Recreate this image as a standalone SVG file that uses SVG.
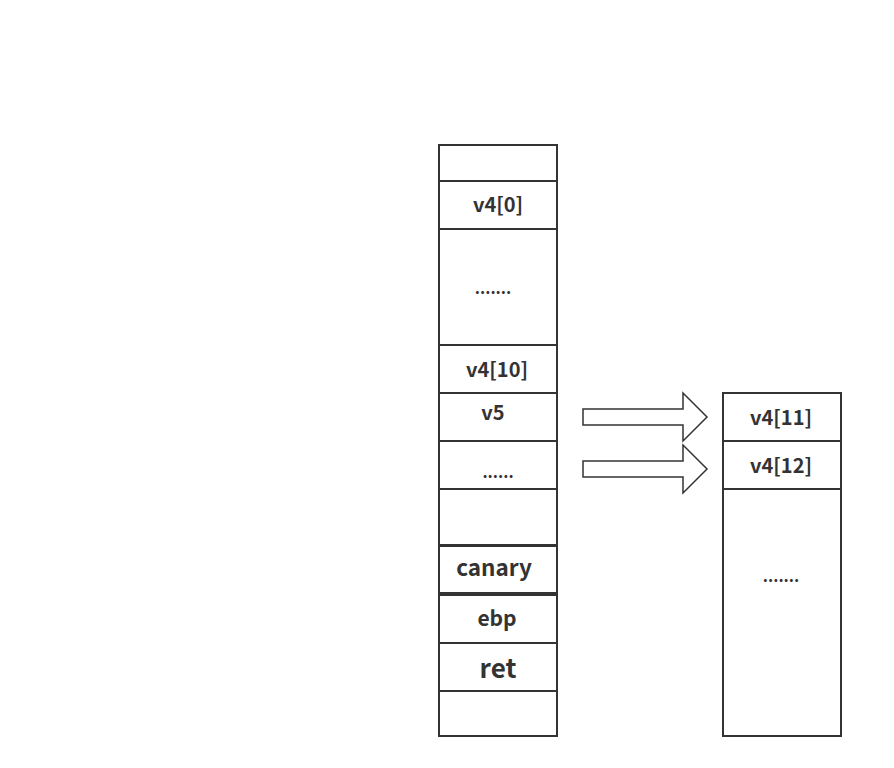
<svg xmlns="http://www.w3.org/2000/svg" width="894" height="768" viewBox="0 0 894 768">
<style>
.cell{fill:#fff;stroke:#333;stroke-width:2}
.t{font-family:"Noto Sans CJK SC","Noto Sans",sans-serif;font-weight:bold;font-size:20px;fill:#333;text-anchor:middle;dominant-baseline:central}
.d{font-family:"Noto Sans CJK SC","Noto Sans",sans-serif;font-weight:bold;font-size:16px;fill:#333;text-anchor:middle}
.arr{fill:#fff;stroke:#333;stroke-width:1.5;stroke-linejoin:miter}
</style>
<rect width="894" height="768" fill="#fff"/>
<g id="left-stack">
<g id="cell-top"><rect class="cell" x="439" y="145" width="118" height="36"/></g>
<g id="cell-v4-0"><rect class="cell" x="439" y="181" width="118" height="48"/><text class="t" x="498" y="203">v4[0]</text></g>
<g id="cell-dots1"><rect class="cell" x="439" y="229" width="118" height="116"/><text class="d" x="493" y="294">.......</text></g>
<g id="cell-v4-10"><rect class="cell" x="439" y="345" width="118" height="48"/><text class="t" x="497" y="368">v4[10]</text></g>
<g id="cell-v5"><rect class="cell" x="439" y="393" width="118" height="48"/><text class="t" x="493" y="411">v5</text></g>
<g id="cell-dots2"><rect class="cell" x="439" y="441" width="118" height="48"/><text class="d" x="498" y="478">......</text></g>
<g id="cell-empty"><rect class="cell" x="439" y="489" width="118" height="56"/></g>
<g id="cell-canary"><rect class="cell" x="439" y="546" width="118" height="47" stroke-width="3"/><text class="t" x="494" y="566" style="font-size:22.5px">canary</text></g>
<g id="cell-ebp"><rect class="cell" x="439" y="595" width="118" height="48"/><text class="t" x="497" y="617" style="font-size:21px">ebp</text></g>
<g id="cell-ret"><rect class="cell" x="439" y="643" width="118" height="48"/><text class="t" x="498" y="666" style="font-size:26px">ret</text></g>
<g id="cell-bottom"><rect class="cell" x="439" y="691" width="118" height="45"/></g>
</g>
<g id="right-stack">
<g id="cell-v4-11"><rect class="cell" x="723" y="393" width="118" height="48"/><text class="t" x="781" y="416">v4[11]</text></g>
<g id="cell-v4-12"><rect class="cell" x="723" y="441" width="118" height="48"/><text class="t" x="781" y="464">v4[12]</text></g>
<g id="cell-dots3"><rect class="cell" x="723" y="489" width="118" height="247"/><text class="d" x="781" y="582">.......</text></g>
</g>
<g id="connectors">
<path class="arr" d="M583,409 H683 V393 L707,417 L683,441 V425 H583 Z"/>
<path class="arr" d="M583,461 H683 V445 L707,469 L683,493 V477 H583 Z"/>
</g>
</svg>
